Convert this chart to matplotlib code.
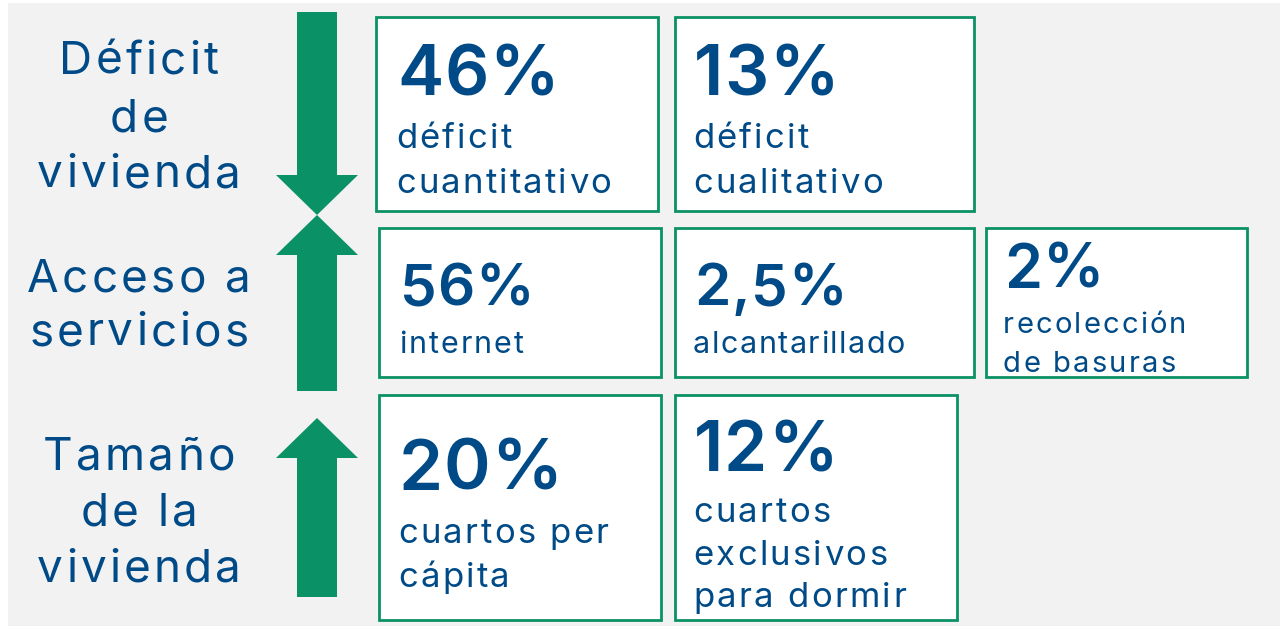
import matplotlib
matplotlib.use("Agg")
import matplotlib.pyplot as plt
from matplotlib.patches import Rectangle, Polygon
from matplotlib.font_manager import FontProperties, findfont
from matplotlib.ft2font import FT2Font

# ---- data ----
categories = ["Déficit\nde\nvivienda", "Acceso a\nservicios", "Tamaño\nde la\nvivienda"]
arrow_dirs = ["down", "up", "up"]
values = [["46%", "13%"], ["56%", "2,5%", "2%"], ["20%", "12%"]]
descriptions = [
    ["déficit\ncuantitativo", "déficit\ncualitativo"],
    ["internet", "alcantarillado", "recolección\nde basuras"],
    ["cuartos per\ncápita", "cuartos\nexclusivos\npara dormir"],
]

NAVY = "#004B87"
GREEN = "#0A9166"
BG = "#F2F2F2"
FAMILY = "Inter"
DPI = 100

W, H = 1283, 629
fig = plt.figure(figsize=(W / DPI, H / DPI), dpi=DPI)
ax = fig.add_axes([0, 0, 1, 1])
ax.set_xlim(0, W)
ax.set_ylim(H, 0)
ax.axis("off")

_font_cache = {}


def _ft(weight):
    if weight not in _font_cache:
        path = findfont(FontProperties(family=FAMILY, weight=weight))
        _font_cache[weight] = FT2Font(path)
    return _font_cache[weight]


def tracked_text(x, y, s, size, track, weight="normal", ha="left"):
    """Draw text with extra letter spacing (track, in pixels)."""
    font = _ft(weight)
    font.set_size(size, DPI)
    advances = []
    for ch in s:
        g = font.load_char(ord(ch))
        advances.append(g.linearHoriAdvance / 65536.0)
    total = sum(advances) + track * (len(s) - 1)
    if ha == "center":
        x = x - total / 2
    pen = x
    for ch, adv in zip(s, advances):
        if ch != " ":
            ax.text(pen, y, ch, ha="left", va="baseline", fontsize=size,
                    fontweight=weight, color=NAVY, family=[FAMILY, "DejaVu Sans"])
        pen += adv + track


ax.add_patch(Rectangle((8, 3), 1272, 623, facecolor=BG, edgecolor="none"))

# ---- left labels ----
label_lines = [[74, 131, 187], [292, 345], [470, 526, 582]]
for cat, ys in zip(categories, label_lines):
    for line, y in zip(cat.split("\n"), ys):
        tracked_text(139, y, line, 33, 3.2, ha="center")

# ---- arrows ----
arrow_geo = [(12, 215), (215, 391), (418, 597)]  # (top, bottom)
sx0, sx1, hx0, hx1, cx = 297, 337, 276, 358, 317
head_len = 40
for d, (top, bot) in zip(arrow_dirs, arrow_geo):
    if d == "down":
        pts = [(sx0, top), (sx1, top), (sx1, bot - head_len), (hx1, bot - head_len),
               (cx, bot), (hx0, bot - head_len), (sx0, bot - head_len)]
    else:
        pts = [(cx, top), (hx1, top + head_len), (sx1, top + head_len), (sx1, bot),
               (sx0, bot), (sx0, top + head_len), (hx0, top + head_len)]
    ax.add_patch(Polygon(pts, closed=True, facecolor=GREEN, edgecolor="none"))

# ---- boxes ----
boxes = [
    [(376, 17, 658, 211), (675, 17, 974, 211)],
    [(379, 228, 661, 377), (675, 228, 974, 377), (986, 228, 1247, 377)],
    [(379, 395, 661, 620), (675, 395, 957, 620)],
]
num_style = [
    [(397, 95, 50), (694, 95, 50)],
    [(400, 305, 42), (694, 305, 42), (1004, 288, 44)],
    [(399, 490, 51), (694, 471, 50)],
]
desc_style = [
    [([148, 193], 25, 2.2), ([148, 193], 25, 2.2)],
    [([353], 22, 2.0), ([353], 22, 1.5), ([333, 372], 21, 2.2)],
    [([543, 587], 25, 2.3), ([522, 565, 607], 25, 2.3)],
]
for r in range(len(boxes)):
    for c in range(len(boxes[r])):
        x0, y0, x1, y1 = boxes[r][c]
        ax.add_patch(Rectangle((x0, y0), x1 - x0, y1 - y0, facecolor="white",
                               edgecolor=GREEN, linewidth=2))
        nx, ny, nfs = num_style[r][c]
        tracked_text(nx, ny, values[r][c], nfs, 0.8, weight="semibold")
        ys, dfs, tr = desc_style[r][c]
        for line, y in zip(descriptions[r][c].split("\n"), ys):
            tracked_text(nx - 1, y, line, dfs, tr)

fig.savefig("out.png", dpi=DPI, facecolor="white")
